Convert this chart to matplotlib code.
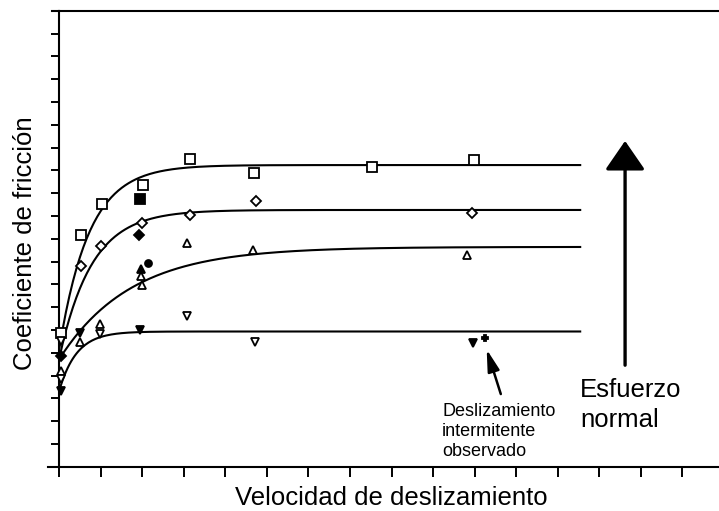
import numpy as np
import matplotlib
matplotlib.use("Agg")
import matplotlib.pyplot as plt

plt.rcParams['font.family'] = ['Liberation Sans', 'DejaVu Sans']

# measured points, grouped by symbol (velocity units, friction units)
sq_open_x = [0.05, 0.52, 1.03, 2.03, 3.15, 4.69, 7.52, 9.99]
sq_open_y = [5.85, 10.16, 11.51, 12.36, 13.48, 12.89, 13.16, 13.45]
sq_fill_x = [1.95]
sq_fill_y = [11.73]

dm_open_x = [0.52, 1.02, 1.99, 3.15, 4.74, 9.93]
dm_open_y = [8.80, 9.67, 10.68, 11.03, 11.67, 11.11]
dm_fill_x = [1.93, 0.05]
dm_fill_y = [10.16, 4.85]

tr_open_x = [0.05, 0.50, 0.99, 1.97, 1.99, 3.07, 4.66, 9.81]
tr_open_y = [4.20, 5.48, 6.25, 8.35, 7.97, 9.80, 9.50, 9.29]
tr_fill_x = [1.97]
tr_fill_y = [8.65]
dot_x = [2.15]
dot_y = [8.95]

inv_open_x = [0.05, 0.05, 0.99, 3.09, 4.72]
inv_open_y = [5.50, 3.85, 5.80, 6.61, 5.46]
inv_fill_x = [0.05, 0.50, 1.95, 9.95]
inv_fill_y = [3.30, 5.86, 5.99, 5.41]

# stick-slip point
slip_x = [10.25]
slip_y = [5.63]

# fitted curves: plateau, value at zero velocity, rate constant
fit_plateau = [13.23, 11.26, 9.64, 5.93]
fit_start = [5.10, 4.70, 4.70, 3.30]
fit_tau = [0.72, 0.78, 1.72, 0.42]
fit_xmax = 12.54

fig = plt.figure(figsize=(7.19, 5.11), dpi=100)
ax = fig.add_axes([59 / 719, 44.3 / 511, 665 / 719, 456 / 511])
ax.set_xlim(0, 16)
ax.set_ylim(0, 20)

v = np.linspace(0, fit_xmax, 300)
for a, b, t in zip(fit_plateau, fit_start, fit_tau):
    ax.plot(v, a - (a - b) * np.exp(-v / t), color='black', lw=1.5)

mk = dict(color='black', linestyle='none', mew=1.3, clip_on=False, zorder=3)
ax.plot(sq_open_x, sq_open_y, marker='s', ms=6.5, mfc='white', **mk)
ax.plot(sq_fill_x, sq_fill_y, marker='s', ms=6.5, mfc='black', **mk)
ax.plot(dm_open_x, dm_open_y, marker='D', ms=5.2, mfc='white', **mk)
ax.plot(dm_fill_x, dm_fill_y, marker='D', ms=5.2, mfc='black', **mk)
ax.plot(tr_open_x, tr_open_y, marker='^', ms=6.3, mfc='white', **mk)
ax.plot(tr_fill_x, tr_fill_y, marker='^', ms=6.3, mfc='black', **mk)
ax.plot(dot_x, dot_y, marker='o', ms=5, mfc='black', **mk)
ax.plot(inv_open_x, inv_open_y, marker='v', ms=6.3, mfc='white', **mk)
ax.plot(inv_fill_x, inv_fill_y, marker='v', ms=6.3, mfc='black', **mk)
ax.plot(slip_x, slip_y, marker='P', ms=5, mfc='black', **mk)

# axes frame: left, bottom, top; no right spine
ax.spines['right'].set_visible(False)
for s in ['left', 'bottom', 'top']:
    ax.spines[s].set_linewidth(1.5)
ax.axhline(0, xmin=-0.017, xmax=0, color='black', lw=1.5, clip_on=False)
ax.axhline(20, xmin=-0.010, xmax=0, color='black', lw=1.5, clip_on=False)

ax.set_xticks(np.arange(0, 16))
ax.set_yticks(np.arange(0, 21))
ax.tick_params(axis='x', direction='out', length=7, width=1.4, labelbottom=False)
ax.tick_params(axis='y', direction='out', length=6, width=1.4, labelleft=False)

ax.set_xlabel('Velocidad de deslizamiento', fontsize=18.5, labelpad=7)
ax.set_ylabel('Coeficiente de fricción', fontsize=18.5)
ax.yaxis.set_label_coords(-0.033, 0.49)

# stick-slip note
ax.annotate('', xy=(10.27, 5.26), xytext=(10.65, 3.07),
            arrowprops=dict(arrowstyle='-|>,head_length=1.1,head_width=0.3',
                            color='black', lw=1.8, mutation_scale=12))
ax.text(9.22, 1.53, 'Deslizamiento\nintermitente\nobservado', fontsize=13,
        ha='left', va='center', linespacing=1.22)

# normal stress arrow
ax.annotate('', xy=(13.62, 14.41), xytext=(13.62, 4.33),
            arrowprops=dict(arrowstyle='-|>,head_length=0.9,head_width=0.62',
                            color='black', lw=2.4, mutation_scale=20))
ax.text(12.54, 2.7, 'Esfuerzo\nnormal', fontsize=18.5, ha='left', va='center',
        linespacing=1.3)

fig.savefig('out.png', dpi=100)
